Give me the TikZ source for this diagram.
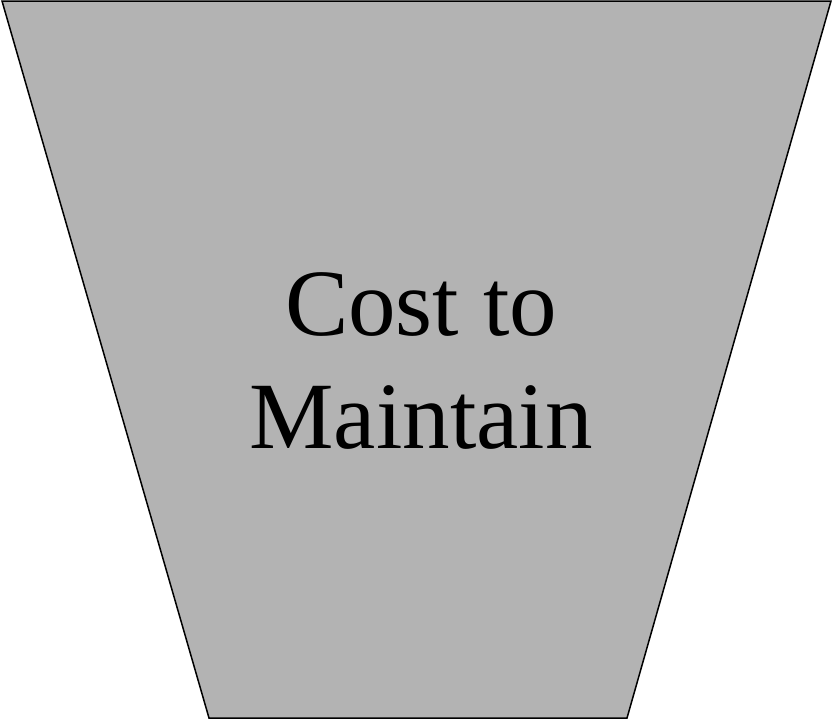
\documentclass[tikz,border=0pt]{standalone}
\usepackage{fontspec}
\setmainfont{Liberation Serif}
\definecolor{funnelgray}{HTML}{B3B3B3}
\tikzset{
	funnel/.style={
			draw=black,
			line width=1.5pt,
			fill=funnelgray,
			line join=miter
		},
	funneltext/.style={
			align=center,
			font=\fontsize{95}{113}\selectfont,
			inner sep=0pt
		}
}
\begin{document}
\begin{tikzpicture}[x=1pt, y=-1pt]
\useasboundingbox (0,0) rectangle (832,721);
\coordinate (tl) at (2,1);
\coordinate (tr) at (831,1);
\coordinate (br) at (627,718);
\coordinate (bl) at (209,718);

\draw[funnel] (tl) -- (tr) -- (br) -- (bl) -- cycle;

\node[funneltext, anchor=base] (cost) at (421,335) {Cost to};
\node[funneltext, anchor=base] (maintain) at (421,448) {Maintain};
\end{tikzpicture}
\end{document}
